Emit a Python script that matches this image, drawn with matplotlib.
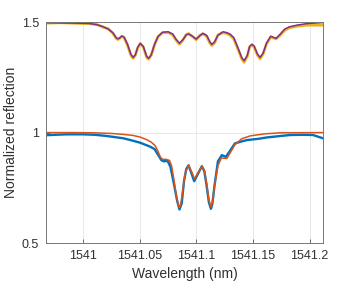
import matplotlib
matplotlib.use("Agg")
import matplotlib.pyplot as plt

# upper trace (offset by +0.5): measured (yellow) and fit (purple)
wl_up = [1540.967, 1540.980, 1540.995, 1541.005, 1541.012, 1541.017, 1541.022,
         1541.026, 1541.029, 1541.0305, 1541.032, 1541.034, 1541.036, 1541.039,
         1541.042, 1541.044, 1541.046, 1541.048, 1541.0503, 1541.053, 1541.056,
         1541.0577, 1541.060, 1541.063, 1541.066, 1541.070, 1541.075, 1541.079,
         1541.082, 1541.085, 1541.088, 1541.091, 1541.093, 1541.096, 1541.0998,
         1541.103, 1541.1057, 1541.109, 1541.112, 1541.1136, 1541.116, 1541.119,
         1541.1234, 1541.127, 1541.1298, 1541.133, 1541.137, 1541.140, 1541.1422,
         1541.145, 1541.147, 1541.149, 1541.151, 1541.154, 1541.1563, 1541.159,
         1541.162, 1541.1657, 1541.1704, 1541.174, 1541.178, 1541.182, 1541.1887,
         1541.1975, 1541.212]
fit_up = [1.497, 1.496, 1.495, 1.494, 1.488, 1.480, 1.468,
          1.452, 1.430, 1.424, 1.428, 1.437, 1.432, 1.400,
          1.355, 1.340, 1.352, 1.385, 1.404, 1.390, 1.345,
          1.336, 1.352, 1.400, 1.435, 1.454, 1.456, 1.446,
          1.422, 1.404, 1.420, 1.442, 1.446, 1.438, 1.423,
          1.438, 1.449, 1.440, 1.410, 1.399, 1.410, 1.440,
          1.456, 1.452, 1.445, 1.430, 1.380, 1.340, 1.325,
          1.350, 1.390, 1.400, 1.392, 1.355, 1.340, 1.360,
          1.405, 1.436, 1.426, 1.445, 1.468, 1.478, 1.486,
          1.493, 1.498]
meas_up = [1.495, 1.497, 1.494, 1.493, 1.489, 1.478, 1.470,
           1.450, 1.426, 1.421, 1.426, 1.435, 1.430, 1.396,
           1.350, 1.336, 1.350, 1.383, 1.402, 1.387, 1.340,
           1.332, 1.350, 1.398, 1.433, 1.452, 1.453, 1.442,
           1.418, 1.400, 1.418, 1.444, 1.448, 1.436, 1.420,
           1.440, 1.447, 1.436, 1.404, 1.394, 1.406, 1.442,
           1.452, 1.448, 1.440, 1.424, 1.374, 1.334, 1.318,
           1.345, 1.386, 1.396, 1.388, 1.350, 1.334, 1.356,
           1.402, 1.432, 1.424, 1.440, 1.462, 1.474, 1.481,
           1.486, 1.486]

# lower trace: measured (blue)
wl_meas = [1540.967, 1540.975, 1540.985, 1541.000, 1541.010, 1541.020, 1541.030,
           1541.0356, 1541.044, 1541.0503, 1541.0592, 1541.063, 1541.066, 1541.069,
           1541.071, 1541.0745, 1541.077, 1541.080, 1541.083, 1541.085, 1541.087,
           1541.089, 1541.091, 1541.093, 1541.096, 1541.098, 1541.101, 1541.1048,
           1541.107, 1541.109, 1541.111, 1541.1128, 1541.114, 1541.116, 1541.119,
           1541.1225, 1541.126, 1541.130, 1541.134, 1541.140, 1541.1445, 1541.155,
           1541.1622, 1541.175, 1541.1828, 1541.195, 1541.2031, 1541.212]
meas_low = [0.988, 0.990, 0.992, 0.992, 0.990, 0.985, 0.978,
            0.974, 0.963, 0.954, 0.936, 0.925, 0.900, 0.875,
            0.870, 0.872, 0.845, 0.770, 0.690, 0.652, 0.680,
            0.780, 0.835, 0.852, 0.810, 0.780, 0.810, 0.848,
            0.825, 0.760, 0.685, 0.655, 0.675, 0.760, 0.870,
            0.898, 0.890, 0.920, 0.951, 0.960, 0.966, 0.972,
            0.978, 0.985, 0.989, 0.990, 0.989, 0.974]

# lower trace: fit (orange)
wl_fit = [1540.967, 1540.990, 1541.010, 1541.025, 1541.035, 1541.044, 1541.050,
          1541.056, 1541.060, 1541.0636, 1541.066, 1541.068, 1541.070, 1541.073,
          1541.0762, 1541.078, 1541.080, 1541.082, 1541.084, 1541.085, 1541.086,
          1541.088, 1541.090, 1541.093, 1541.096, 1541.0983, 1541.101, 1541.1048,
          1541.107, 1541.109, 1541.111, 1541.1128, 1541.114, 1541.116, 1541.119,
          1541.122, 1541.1269, 1541.130, 1541.134, 1541.140, 1541.1475, 1541.160,
          1541.174, 1541.212]
fit_low = [1.000, 1.000, 0.999, 0.996, 0.992, 0.987, 0.980,
           0.968, 0.957, 0.940, 0.915, 0.890, 0.879, 0.879,
           0.874, 0.850, 0.790, 0.720, 0.670, 0.662, 0.672,
           0.740, 0.815, 0.853, 0.820, 0.790, 0.815, 0.847,
           0.830, 0.770, 0.695, 0.664, 0.680, 0.760, 0.850,
           0.885, 0.883, 0.910, 0.945, 0.972, 0.985, 0.994,
           0.999, 1.000]

xticks = [1541, 1541.05, 1541.1, 1541.15, 1541.2]
xtick_labels = ["1541", "1541.05", "1541.1", "1541.15", "1541.2"]
yticks = [0.5, 1, 1.5]
ytick_labels = ["0.5", "1", "1.5"]

plt.rcParams["font.family"] = ["Liberation Sans", "DejaVu Sans"]

fig = plt.figure(figsize=(3.57, 2.83), dpi=100)
ax = fig.add_axes([0.129, 0.141, 0.776, 0.781])

ax.plot(wl_meas, meas_low, color="#0072BD", linewidth=1.7, solid_joinstyle="round")
ax.plot(wl_fit, fit_low, color="#D95319", linewidth=1.1)
ax.plot(wl_up, meas_up, color="#EDB120", linewidth=2.0, solid_joinstyle="round")
ax.plot(wl_up, fit_up, color="#7E2F8E", linewidth=1.1)

ax.set_xlim(1540.967, 1541.212)
ax.set_ylim(0.5, 1.5)
ax.set_xticks(xticks)
ax.set_xticklabels(xtick_labels)
ax.set_yticks(yticks)
ax.set_yticklabels(ytick_labels)
ax.tick_params(direction="in", length=3, width=0.6, colors="#555555",
               labelcolor="#303030", labelsize=9, pad=5)
ax.grid(True, color="#e4e4e4", linewidth=0.6)
ax.set_axisbelow(True)
for s in ax.spines.values():
    s.set_color("#777777")
    s.set_linewidth(0.7)

ax.set_xlabel("Wavelength (nm)", fontsize=10, color="#303030", labelpad=3.5)
ax.set_ylabel("Normalized reflection", fontsize=10, color="#303030", labelpad=3)

fig.savefig("out.png", dpi=100)
